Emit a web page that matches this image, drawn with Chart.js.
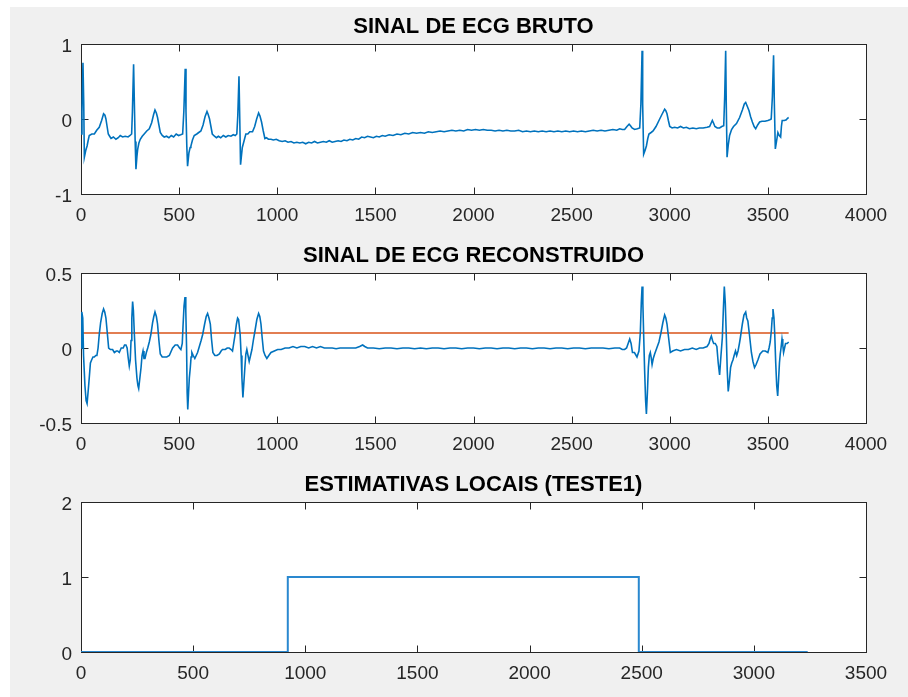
<!DOCTYPE html>
<html>
<head>
<meta charset="utf-8">
<script src="https://cdn.jsdelivr.net/npm/chart.js@4.4.1/dist/chart.umd.min.js"></script>
<style>
html,body{margin:0;padding:0;background:#fff;width:908px;height:697px;overflow:hidden}
#fig{position:absolute;left:10px;top:7px;width:898px;height:690px;background:#f0f0f0}
.c{position:absolute;left:0;width:908px}
</style>
</head>
<body>
<div id="fig"></div>
<div class="c" style="top:0;height:232px"><canvas id="c1"></canvas></div>
<div class="c" style="top:232px;height:232px"><canvas id="c2"></canvas></div>
<div class="c" style="top:464px;height:233px"><canvas id="c3"></canvas></div>
<script>
// ---------- DATA (sample index, amplitude) ----------
const titles = ["SINAL DE ECG BRUTO", "SINAL DE ECG RECONSTRUIDO", "ESTIMATIVAS LOCAIS (TESTE1)"];
const xTicksTop = [0, 500, 1000, 1500, 2000, 2500, 3000, 3500, 4000];
const xTicksBottom = [0, 500, 1000, 1500, 2000, 2500, 3000, 3500];
const yTicks1 = [-1, 0, 1];
const yTicks2 = [-0.5, 0, 0.5];
const yTicks3 = [0, 1, 2];

const ecgBruto = [
[0,-0.2],[5,0.1],[10,0.75],[14,0.2],[17,-0.51],[24,-0.42],[31,-0.36],[37,-0.28],[42,-0.22],[55,-0.2],[68,-0.2],[80,-0.15],[93,-0.11],[105,-0.02],[115,0.07],[122,0.05],[127,0],[133,-0.1],[139,-0.2],[146,-0.23],[153,-0.26],[165,-0.24],[178,-0.27],[190,-0.25],[200,-0.22],[212,-0.24],[225,-0.23],[240,-0.24],[250,-0.22],[258,-0.2],
[262,0.1],[268,0.73],[272,0.2],[276,-0.3],[280,-0.67],[285,-0.5],[289,-0.4],[295,-0.32],[302,-0.27],[312,-0.23],[322,-0.2],[335,-0.16],[348,-0.13],[360,-0.05],[370,0.06],[377,0.12],[384,0.08],[390,0.02],[397,-0.08],[404,-0.18],[414,-0.22],[424,-0.24],[436,-0.23],[448,-0.25],[460,-0.22],[472,-0.24],[485,-0.2],[497,-0.22],[508,-0.21],[518,-0.2],
[524,0.1],[531,0.67],[535,0.1],[539,-0.35],[543,-0.63],[550,-0.45],[556,-0.38],[560,-0.36],[568,-0.28],[577,-0.22],[590,-0.2],[600,-0.18],[611,-0.16],[622,-0.08],[632,0.03],[642,0.1],[648,0.06],[655,0],[662,-0.1],[669,-0.2],[680,-0.23],[690,-0.25],[700,-0.23],[712,-0.25],[725,-0.22],[738,-0.24],[750,-0.22],[764,-0.23],[776,-0.21],[786,-0.22],[794,-0.2],
[799,0.05],[805,0.57],[809,0.0],[813,-0.61],[818,-0.48],[822,-0.38],[827,-0.33],[834,-0.26],[840,-0.2],[850,-0.2],[860,-0.17],[874,-0.17],[885,-0.1],[895,0.0],[905,0.08],[912,0.04],[920,-0.04],[928,-0.15],[937,-0.26],[945,-0.25],[955,-0.27],[968,-0.27],[980,-0.28],[995,-0.27],
[1010,-0.29],[1025,-0.3],[1040,-0.29],[1055,-0.31],[1070,-0.3],[1085,-0.32],[1100,-0.31],[1115,-0.32],[1130,-0.31],[1145,-0.33],[1160,-0.31],[1175,-0.32],[1190,-0.3],[1205,-0.32],[1220,-0.31],[1235,-0.3],[1250,-0.31],[1265,-0.29],[1280,-0.31],[1295,-0.3],[1310,-0.29],[1325,-0.3],[1340,-0.28],[1355,-0.29],[1370,-0.27],[1385,-0.28],[1400,-0.26],[1415,-0.27],[1430,-0.24],[1445,-0.25],[1460,-0.23],
[1475,-0.24],[1490,-0.25],[1505,-0.23],[1520,-0.24],[1535,-0.22],[1550,-0.23],[1570,-0.21],[1590,-0.22],[1610,-0.2],[1630,-0.21],[1650,-0.19],[1670,-0.2],[1690,-0.18],[1710,-0.19],[1730,-0.18],[1750,-0.19],[1770,-0.17],[1790,-0.18],[1810,-0.17],[1830,-0.16],[1850,-0.17],[1870,-0.16],[1890,-0.15],[1910,-0.16],[1930,-0.15],[1950,-0.16],[1970,-0.14],[1990,-0.15],[2010,-0.14],[2030,-0.15],[2050,-0.14],[2070,-0.15],[2090,-0.15],[2110,-0.16],[2130,-0.15],[2150,-0.16],[2170,-0.15],[2190,-0.16],[2210,-0.16],[2230,-0.15],[2250,-0.17],[2270,-0.16],[2290,-0.17],[2310,-0.16],[2330,-0.17],[2350,-0.16],[2370,-0.17],[2390,-0.16],[2410,-0.17],[2430,-0.16],[2450,-0.17],[2470,-0.16],[2490,-0.17],[2510,-0.16],[2530,-0.17],[2550,-0.16],[2570,-0.17],[2590,-0.16],[2610,-0.15],[2630,-0.16],[2650,-0.15],[2670,-0.16],[2690,-0.15],[2710,-0.14],[2730,-0.15],[2745,-0.13],
[2758,-0.14],[2770,-0.14],[2782,-0.1],[2793,-0.07],[2800,-0.09],[2808,-0.12],[2821,-0.14],[2835,-0.13],[2847,-0.12],[2853,0.2],[2859,0.91],[2862,0.2],[2867,-0.47],[2874,-0.42],[2881,-0.36],[2888,-0.26],[2894,-0.2],[2905,-0.18],[2915,-0.16],[2930,-0.1],[2945,-0.02],[2960,0.06],[2974,0.13],[2980,0.11],[2986,0.07],[2993,-0.02],[3000,-0.1],[3012,-0.12],[3025,-0.11],[3040,-0.12],[3055,-0.1],[3070,-0.12],[3085,-0.11],[3100,-0.13],[3118,-0.12],[3135,-0.13],[3150,-0.12],[3170,-0.12],[3190,-0.11],[3203,-0.1],[3210,-0.06],[3217,-0.02],[3224,-0.06],[3230,-0.1],[3242,-0.12],[3254,-0.12],[3265,-0.1],[3275,-0.09],
[3280,0.3],[3285,0.91],[3288,0.2],[3292,-0.51],[3298,-0.35],[3305,-0.22],[3315,-0.14],[3325,-0.1],[3340,-0.06],[3356,0.02],[3370,0.12],[3380,0.2],[3387,0.22],[3395,0.17],[3404,0.11],[3412,0.03],[3421,-0.04],[3430,-0.1],[3438,-0.13],[3448,-0.08],[3458,-0.04],[3470,-0.03],[3485,-0.03],[3500,-0.02],[3510,-0.01],[3517,0],
[3523,0.3],[3529,0.85],[3533,0.2],[3538,-0.4],[3544,-0.3],[3551,-0.18],[3558,-0.22],[3565,-0.24],[3569,-0.1],[3573,-0.02],[3584,-0.02],[3594,-0.01],[3600,0.01],[3606,0.02]
];

const ecgReconstruido = [
[0,0],[3,0.1],[5,0.24],[9,0.2],[13,-0.05],[20,-0.25],[26,-0.35],[31,-0.37],[37,-0.28],[42,-0.2],[48,-0.1],[54,-0.08],[61,-0.06],[68,-0.06],[75,-0.05],[81,-0.05],[87,0.0],[93,0.09],[100,0.17],[108,0.23],[115,0.26],[121,0.24],[127,0.2],[134,0.1],[141,0],[150,-0.01],[161,-0.01],[170,-0.03],[180,-0.02],[187,-0.02],[195,-0.03],[205,0],[215,0.0],[222,0.02],[229,0.02],[235,0.0],[240,-0.06],[246,-0.12],[251,-0.08],
[255,0.05],[259,0.2],[263,0.31],[267,0.25],[272,0.09],[278,-0.08],[285,-0.2],[290,-0.25],[294,-0.27],[300,-0.2],[306,-0.13],[311,-0.05],[316,-0.02],[321,-0.07],[326,-0.07],[333,-0.03],[340,0],[348,0.04],[356,0.09],[365,0.17],[371,0.21],[377,0.24],[384,0.21],[390,0.16],[397,0.05],[404,-0.04],[414,-0.06],[424,-0.06],[437,-0.06],[450,-0.05],[460,-0.02],[467,0],[480,0.02],[492,0.02],[502,0.0],[509,-0.01],
[516,0.03],[520,0.15],[525,0.28],[530,0.34],[534,0.25],[538,0.0],[541,-0.3],[544,-0.41],[548,-0.3],[552,-0.2],[557,-0.13],[561,-0.06],[565,-0.03],[572,-0.05],[580,-0.07],[587,-0.05],[594,-0.03],[603,0.01],[612,0.05],[620,0.09],[630,0.16],[638,0.21],[645,0.23],[652,0.2],[659,0.16],[665,0.06],[672,-0.03],[682,-0.05],[693,-0.05],[705,-0.04],[714,-0.02],[721,-0.01],[735,-0.01],[745,0.0],[755,0.0],[765,-0.01],[772,-0.02],
[778,0.03],[784,0.08],[792,0.16],[798,0.2],[803,0.19],[807,0.14],[811,0.09],[816,-0.05],[820,-0.2],[825,-0.33],[829,-0.25],[835,-0.13],[840,-0.04],[845,-0.01],[851,-0.05],[857,-0.09],[864,-0.05],[871,-0.01],[878,0.05],[886,0.11],[896,0.19],[905,0.23],[911,0.21],[917,0.16],[923,0.07],[930,-0.02],[938,-0.05],[947,-0.07],[957,-0.05],[968,-0.03],[985,-0.02],
[1002,-0.01],[1020,-0.01],[1040,0.0],[1060,0.0],[1080,0.01],[1100,0.0],[1120,0.01],[1140,0.01],[1160,0.0],[1180,0.01],[1200,0.0],[1220,0.01],[1240,0.0],[1260,0.0],[1280,0.0],[1300,-0.005],[1320,0.0],[1340,0.0],[1360,0.0],[1380,0.0],[1400,0.0],[1420,0.01],[1435,0.02],[1446,0.01],[1460,0.0],
[1490,0.0],[1520,-0.005],[1550,0.0],[1580,0.0],[1610,-0.005],[1640,0.0],[1670,0.0],[1700,-0.005],[1730,0.0],[1760,-0.005],[1790,0.0],[1820,0.0],[1850,-0.005],[1880,0.0],[1910,0.0],[1940,-0.005],[1970,0.0],[2000,0.0],[2030,-0.005],[2060,0.0],[2090,0.0],[2120,-0.005],[2150,0.0],[2180,0.0],[2210,-0.005],[2240,0.0],[2270,0.0],[2300,-0.005],[2330,0.0],[2360,0.0],[2390,-0.005],[2420,0.0],[2450,0.0],[2480,-0.005],[2510,0.0],[2540,0.0],[2570,-0.005],[2600,0.0],[2630,0.0],[2660,0.0],[2690,-0.005],[2720,0.0],[2745,0],
[2758,-0.01],[2770,-0.01],[2780,0.0],[2788,0.03],[2796,0.06],[2803,0.03],[2810,-0.03],[2820,-0.03],[2833,-0.06],[2843,-0.02],[2850,0.1],[2855,0.3],[2859,0.41],[2863,0.3],[2867,0.09],[2872,-0.15],[2877,-0.35],[2881,-0.44],[2886,-0.3],[2891,-0.13],[2896,-0.05],[2901,-0.03],[2905,-0.06],[2910,-0.11],[2916,-0.07],[2923,-0.04],[2934,0.0],[2945,0.04],[2955,0.1],[2965,0.17],[2974,0.22],[2980,0.2],[2986,0.16],[2994,0.07],[3003,-0.03],[3015,-0.02],[3034,-0.01],[3055,-0.02],[3075,-0.01],[3095,-0.01],[3115,0.0],[3135,-0.01],[3152,0.0],[3170,0.0],[3190,0.01],[3200,0.03],[3206,0.06],[3212,0.08],[3218,0.05],[3224,0.03],[3232,0.03],[3240,0.01],[3247,-0.1],[3254,-0.18],[3261,-0.05],
[3268,0.07],[3273,0.25],[3278,0.41],[3283,0.3],[3288,0.09],[3293,-0.15],[3298,-0.29],[3304,-0.22],[3310,-0.13],[3316,-0.1],[3322,-0.08],[3328,-0.05],[3335,-0.02],[3341,-0.05],[3348,-0.02],[3355,0.03],[3360,0.07],[3370,0.16],[3378,0.22],[3387,0.24],[3392,0.2],[3398,0.18],[3406,0.09],[3416,-0.03],[3424,-0.09],[3432,-0.13],[3440,-0.11],[3449,-0.08],[3460,-0.04],[3474,-0.02],[3487,-0.02],[3500,-0.03],[3506,0.0],
[3512,0.04],[3518,0.12],[3522,0.2],[3526,0.26],[3531,0.2],[3535,0.09],[3540,-0.1],[3545,-0.25],[3550,-0.32],[3555,-0.2],[3559,-0.1],[3563,-0.04],[3567,0.0],[3572,0.06],[3576,0.02],[3580,-0.03],[3585,0.0],[3590,0.03],[3598,0.03],[3606,0.04]
];

const limiarX = [0, 3606];
const limiarY = [0.1, 0.1];

const estimativasX = [0, 922, 922, 2487, 2487, 3240];
const estimativasY = [0, 0, 1, 1, 0, 0];

// ---------- RENDERING ----------
const FONT = "'Liberation Sans', Arial, Helvetica, sans-serif";
const AXIS = '#262626';
const BLUE = '#0072BD';
const ORANGE = '#D95319';
const TICKLEN = 7;

const pairs = arr => arr.map(p => ({x: p[0], y: p[1]}));
const zip = (xs, ys) => xs.map((x, i) => ({x: x, y: ys[i]}));

const matlabAxes = {
  id: 'matlabAxes',
  beforeDraw(chart) {
    const a = chart.chartArea, ctx = chart.ctx;
    ctx.save();
    ctx.fillStyle = '#ffffff';
    ctx.fillRect(a.left, a.top, a.right - a.left, a.bottom - a.top);
    ctx.restore();
  },
  beforeDatasetsDraw(chart) {
    const a = chart.chartArea, ctx = chart.ctx;
    const L = Math.round(a.left) + 0.5, R = Math.round(a.right) + 0.5;
    const T = Math.round(a.top) + 0.5, B = Math.round(a.bottom) + 0.5;
    ctx.save();
    ctx.strokeStyle = AXIS;
    ctx.lineWidth = 1;
    ctx.beginPath();
    const xs = chart.scales.x, ys = chart.scales.y;
    xs.ticks.forEach(t => {
      const p = Math.round(xs.getPixelForValue(t.value)) + 0.5;
      ctx.moveTo(p, B); ctx.lineTo(p, B - TICKLEN);
      ctx.moveTo(p, T); ctx.lineTo(p, T + TICKLEN);
    });
    ys.ticks.forEach(t => {
      const p = Math.round(ys.getPixelForValue(t.value)) + 0.5;
      ctx.moveTo(L, p); ctx.lineTo(L + TICKLEN, p);
      ctx.moveTo(R, p); ctx.lineTo(R - TICKLEN, p);
    });
    ctx.stroke();
    ctx.strokeRect(L, T, R - L, B - T);
    ctx.restore();
  }
};

function makeChart(id, datasets, xTicks, yTicks, title, g) {
  return new Chart(document.getElementById(id), {
    type: 'line',
    data: {datasets: datasets},
    plugins: [matlabAxes],
    options: {
      responsive: true,
      maintainAspectRatio: false,
      animation: false,
      events: [],
      layout: {padding: {left: 0, right: 42, top: 0, bottom: 0}},
      elements: {point: {radius: 0}, line: {tension: 0}},
      plugins: {
        legend: {display: false},
        tooltip: {enabled: false},
        title: {
          display: true, text: title, color: '#000000', fullSize: false,
          font: {family: FONT, size: 22, weight: 'bold', lineHeight: 1.2},
          padding: {top: g.tp, bottom: g.tb}
        }
      },
      scales: {
        x: {
          type: 'linear',
          min: xTicks[0], max: xTicks[xTicks.length - 1],
          grid: {display: false, drawTicks: false},
          border: {display: false},
          afterBuildTicks: s => { s.ticks = xTicks.map(v => ({value: v})); },
          ticks: {color: AXIS, font: {family: FONT, size: 19}, padding: 10, maxRotation: 0, autoSkip: false,
                  callback: v => String(v)},
          afterFit: s => { s.height = g.axisH; }
        },
        y: {
          type: 'linear',
          min: yTicks[0], max: yTicks[yTicks.length - 1],
          grid: {display: false, drawTicks: false},
          border: {display: false},
          afterBuildTicks: s => { s.ticks = yTicks.map(v => ({value: v})); },
          ticks: {color: AXIS, font: {family: FONT, size: 19}, padding: 9, labelOffset: 3, autoSkip: false,
                  callback: v => String(v)},
          afterFit: s => { s.width = 81; }
        }
      }
    }
  });
}

makeChart('c1', [
  {data: pairs(ecgBruto), borderColor: BLUE, borderWidth: 1.6, fill: false}
], xTicksTop, yTicks1, titles[0], {tp: 13.8, tb: 3.8, axisH: 38});

makeChart('c2', [
  {data: pairs(ecgReconstruido), borderColor: BLUE, borderWidth: 1.6, fill: false},
  {data: zip(limiarX, limiarY), borderColor: ORANGE, borderWidth: 1.6, fill: false}
], xTicksTop, yTicks2, titles[1], {tp: 10.3, tb: 4.3, axisH: 41});

makeChart('c3', [
  {data: zip(estimativasX, estimativasY), borderColor: '#2a88cf', borderWidth: 2, fill: false}
], xTicksBottom, yTicks3, titles[2], {tp: 7.5, tb: 4.1, axisH: 45});
</script>
</body>
</html>
